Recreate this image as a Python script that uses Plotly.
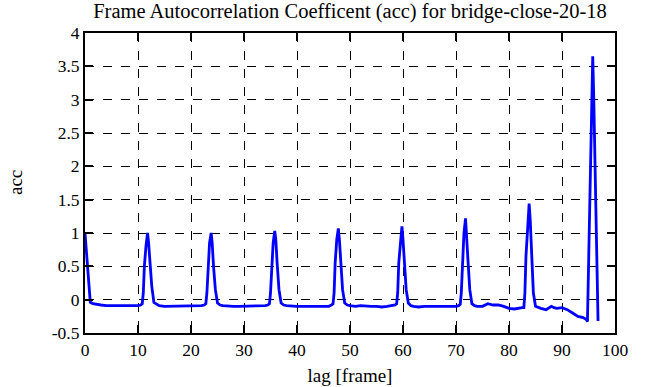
import plotly.graph_objects as go

# ---- data ----
lags = [
    0, 0.25, 0.5, 0.75, 1.0, 1.5, 2, 3, 4, 5, 6, 7, 8, 9, 10, 10.5,
    10.8, 11.0, 11.2, 11.5, 11.8, 12.0, 12.25, 12.6, 13.0,
    13.5, 14, 15, 16, 17, 18, 19, 20, 21, 22, 22.5,
    22.8, 23.0, 23.2, 23.5, 23.8, 24.0, 24.25, 24.6, 25.0,
    25.5, 26, 27, 28, 29, 30, 31, 32, 33, 34, 34.5,
    34.8, 35.0, 35.2, 35.5, 35.8, 36.0, 36.25, 36.6, 37.0,
    37.5, 38, 39, 40, 41, 42, 43, 44, 45, 46, 46.5,
    46.8, 47.0, 47.2, 47.5, 47.8, 48.0, 48.25, 48.6, 49.0,
    49.5, 50, 51, 52, 53, 54, 55, 56, 57, 58, 58.5,
    58.8, 59.0, 59.2, 59.5, 59.8, 60.0, 60.25, 60.6, 61.0,
    61.5, 62, 63, 64, 65, 66, 67, 68, 69, 70, 70.5,
    70.8, 71.0, 71.2, 71.5, 71.8, 72.0, 72.25, 72.6, 73.0,
    73.5, 74, 75, 76, 77, 78, 79, 80, 81, 82, 82.5,
    82.8, 83.0, 83.2, 83.5, 83.8, 84.0, 84.25, 84.6, 85.0,
    85.5, 86, 87, 88, 88.5, 89, 90, 91, 92, 93, 94, 94.6,
    94.8, 95.0, 95.2, 95.5, 95.8, 96.0, 96.25, 96.5, 96.8,
]
acc = [
    1.0, 0.7, 0.45, 0.1, -0.04, -0.06, -0.07, -0.08, -0.09, -0.09, -0.1, -0.09, -0.1, -0.1, -0.09, -0.08,
    -0.06, 0.1, 0.5, 0.8, 1.0, 0.85, 0.5, 0.2, -0.04,
    -0.07, -0.09, -0.1, -0.1, -0.1, -0.1, -0.09, -0.1, -0.1, -0.09, -0.08,
    -0.06, 0.1, 0.5, 0.85, 1.0, 0.85, 0.5, 0.15, -0.05,
    -0.08, -0.09, -0.1, -0.1, -0.1, -0.1, -0.1, -0.1, -0.1, -0.09, -0.08,
    -0.06, 0.1, 0.5, 0.85, 1.03, 0.9, 0.55, 0.15, -0.05,
    -0.08, -0.09, -0.1, -0.1, -0.1, -0.1, -0.11, -0.1, -0.1, -0.1, -0.08,
    -0.06, 0.1, 0.55, 0.9, 1.07, 0.9, 0.5, 0.15, -0.05,
    -0.08, -0.09, -0.1, -0.09, -0.1, -0.1, -0.1, -0.11, -0.1, -0.09, -0.08,
    -0.06, 0.1, 0.55, 0.9, 1.1, 0.9, 0.5, 0.15, -0.05,
    -0.09, -0.1, -0.11, -0.1, -0.1, -0.1, -0.11, -0.1, -0.1, -0.1, -0.09,
    -0.07, 0.1, 0.6, 1.0, 1.22, 1.0, 0.6, 0.15, -0.06,
    -0.09, -0.1, -0.1, -0.06, -0.08, -0.08, -0.1, -0.13, -0.14, -0.12, -0.12,
    -0.12, 0.1, 0.65, 1.1, 1.44, 1.2, 0.75, 0.1, -0.1,
    -0.12, -0.13, -0.15, -0.1, -0.12, -0.13, -0.12, -0.15, -0.2, -0.25, -0.27, -0.3,
    -0.33, 0.5, 1.5, 2.8, 3.65, 3.0, 2.0, 0.8, -0.32,
]

x_ticks = [0, 10, 20, 30, 40, 50, 60, 70, 80, 90, 100]
x_tick_text = ["0", "10", "20", "30", "40", "50", "60", "70", "80", "90", "100"]
y_ticks = [-0.5, 0, 0.5, 1, 1.5, 2, 2.5, 3, 3.5, 4]
y_tick_text = ["-0.5", "0", "0.5", "1", "1.5", "2", "2.5", "3", "3.5", "4"]

FONT = "Liberation Serif, Times New Roman, serif"

fig = go.Figure()
fig.add_trace(go.Scatter(
    x=lags, y=acc, mode="lines",
    line=dict(color="#0000ff", width=2.8),
    showlegend=False, hoverinfo="skip",
))

axis_common = dict(
    showline=True, linecolor="black", linewidth=2, mirror="allticks",
    ticks="inside", ticklen=8, tickwidth=1.5, tickcolor="black",
    showgrid=True, gridcolor="black", gridwidth=1, griddash="dash",
    zeroline=False, automargin=False,
    tickfont=dict(family=FONT, size=17.5, color="black"),
)

fig.update_xaxes(
    range=[0, 100], tickvals=x_ticks, ticktext=x_tick_text,
    title=dict(text="lag [frame]", font=dict(family=FONT, size=19, color="black"), standoff=10),
    **axis_common,
)
fig.update_yaxes(
    range=[-0.5, 4], tickvals=y_ticks, ticktext=y_tick_text,
    **axis_common,
)

fig.update_layout(
    width=666, height=387,
    margin=dict(l=85, r=51, t=33, b=54),
    paper_bgcolor="white", plot_bgcolor="white",
    title=dict(
        text="Frame Autocorrelation Coefficent (acc) for bridge-close-20-18",
        font=dict(family=FONT, size=20.5, color="black"),
        x=0.5, xanchor="center", xref="paper",
        y=0.99, yanchor="top", yref="container",
        pad=dict(t=0, b=0),
    ),
    font=dict(family=FONT, color="black"),
    annotations=[dict(
        text="acc", textangle=-90, showarrow=False,
        xref="paper", yref="paper",
        x=-(85 - 15) / 530, y=0.5, xanchor="center", yanchor="middle",
        font=dict(family=FONT, size=19, color="black"),
    )],
)

fig.write_html(
    "out.html",
    config={"displayModeBar": False},
    post_script="document.body.style.margin='0';document.body.style.overflow='hidden';",
)
